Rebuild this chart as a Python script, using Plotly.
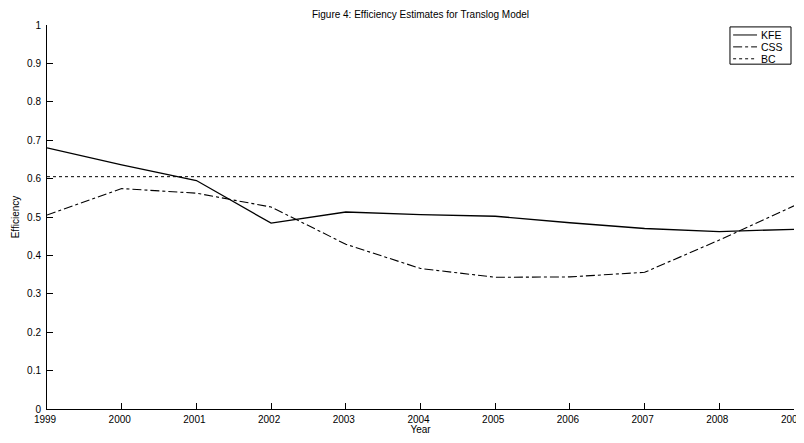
import plotly.graph_objects as go

years = [1999, 2000, 2001, 2002, 2003, 2004, 2005, 2006, 2007, 2008, 2009]
kfe = [0.680, 0.636, 0.595, 0.484, 0.513, 0.506, 0.502, 0.485, 0.470, 0.462, 0.468]
css = [0.505, 0.574, 0.562, 0.526, 0.429, 0.366, 0.343, 0.344, 0.356, 0.440, 0.529]
bc = [0.605] * len(years)
yticks = [0, 0.1, 0.2, 0.3, 0.4, 0.5, 0.6, 0.7, 0.8, 0.9, 1]
ytick_labels = ["0", "0.1", "0.2", "0.3", "0.4", "0.5", "0.6", "0.7", "0.8", "0.9", "1"]
series_names = ["KFE", "CSS", "BC"]
series_dash = ["solid", "dashdot", "dot"]

font = "Liberation Sans, Arial, sans-serif"
fig = go.Figure()
for name, vals, dash, w in zip(series_names, [kfe, css, bc], series_dash, [1.3, 1.1, 1.0]):
    fig.add_trace(go.Scatter(x=years, y=vals, mode="lines", name=name,
                             line=dict(color="black", width=w, dash=dash)))

# custom MATLAB-style legend box (paper coordinates)
shapes = [dict(type="rect", xref="paper", yref="paper", x0=0.9143, x1=0.996,
               y0=0.898, y1=0.995, line=dict(color="black", width=1),
               fillcolor="white", layer="above")]
annotations = []
entry_y = [0.974, 0.943, 0.912]
for name, dash, yy in zip(series_names, series_dash, entry_y):
    shapes.append(dict(type="line", xref="paper", yref="paper", x0=0.9185, x1=0.9505,
                       y0=yy, y1=yy, line=dict(color="black", width=1, dash=dash),
                       layer="above"))
    annotations.append(dict(text=name, xref="paper", yref="paper", x=0.9525, y=yy,
                            xanchor="left", yanchor="middle", showarrow=False,
                            font=dict(size=10.5, family=font, color="black")))

fig.update_layout(
    width=796, height=427,
    margin=dict(l=39, r=10, t=17, b=26, autoexpand=False),
    paper_bgcolor="white", plot_bgcolor="white",
    font=dict(family=font, size=10, color="black"),
    title=dict(text="Figure 4: Efficiency Estimates for Translog Model",
               xref="paper", x=0.5, xanchor="center",
               yref="container", y=0.985, yanchor="middle",
               font=dict(size=10, family=font)),
    showlegend=False,
    shapes=shapes,
    annotations=annotations,
)
fig.update_xaxes(range=[1999, 2009], tickmode="array", tickvals=years,
                 ticktext=[str(y) for y in years], automargin=False,
                 ticks="inside", ticklen=6, tickcolor="black",
                 showline=True, linecolor="black", linewidth=1,
                 showgrid=False, zeroline=False, ticklabeloverflow="allow",
                 ticklabelstandoff=1, ticklabelshift=-2,
                 title=dict(text="Year", standoff=0, font=dict(size=10)))
fig.update_yaxes(range=[0, 1], tickmode="array", tickvals=yticks,
                 ticktext=ytick_labels, automargin=False,
                 ticks="inside", ticklen=6, tickcolor="black",
                 showline=True, linecolor="black", linewidth=1,
                 showgrid=False, zeroline=False, ticklabelstandoff=3,
                 title=dict(text="Efficiency", standoff=5, font=dict(size=10)))

fig.write_html("out.html")
